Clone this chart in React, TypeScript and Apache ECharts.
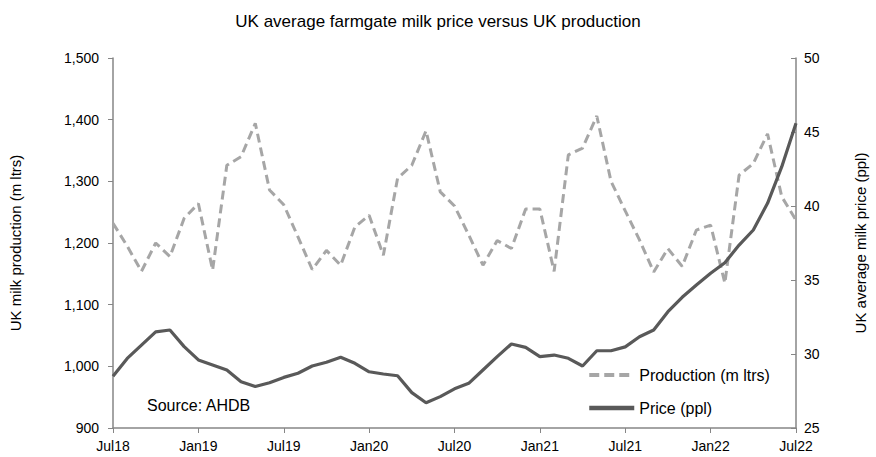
import React, { useEffect, useRef } from "react";
import * as echarts from "echarts";

const months = [
  "Jul18","Aug18","Sep18","Oct18","Nov18","Dec18","Jan19","Feb19","Mar19","Apr19","May19","Jun19",
  "Jul19","Aug19","Sep19","Oct19","Nov19","Dec19","Jan20","Feb20","Mar20","Apr20","May20","Jun20",
  "Jul20","Aug20","Sep20","Oct20","Nov20","Dec20","Jan21","Feb21","Mar21","Apr21","May21","Jun21",
  "Jul21","Aug21","Sep21","Oct21","Nov21","Dec21","Jan22","Feb22","Mar22","Apr22","May22","Jun22",
  "Jul22",
];

const production = [
  1232, 1195, 1154, 1200, 1178, 1240, 1264, 1156, 1326, 1340, 1394, 1286,
  1262, 1210, 1157, 1188, 1164, 1226, 1245, 1180, 1305, 1326, 1382, 1283,
  1260, 1213, 1164, 1204, 1191, 1255, 1255, 1154, 1343, 1354, 1406, 1300,
  1252, 1205, 1153, 1191, 1162, 1221, 1229, 1135, 1310, 1329, 1377, 1275,
  1237,
];

const price = [
  28.5, 29.7, 30.6, 31.5, 31.62, 30.5, 29.6, 29.26, 28.92, 28.13, 27.8, 28.06,
  28.42, 28.7, 29.19, 29.44, 29.78, 29.37, 28.8, 28.65, 28.53, 27.39, 26.71, 27.12,
  27.65, 28.02, 28.92, 29.82, 30.68, 30.45, 29.82, 29.93, 29.71, 29.19, 30.22, 30.22,
  30.48, 31.17, 31.62, 32.86, 33.83, 34.66, 35.45, 36.17, 37.36, 38.38, 40.18, 42.66,
  45.59,
];

const FONT = "'Liberation Sans', Arial, sans-serif";

export default function App() {
  const ref = useRef<HTMLDivElement>(null);
  useEffect(() => {
    if (!ref.current) return;
    const chart = echarts.init(ref.current, null, { renderer: "svg" });
    const axisColor = "#868686";
    chart.setOption({
      animation: false,
      backgroundColor: "#ffffff",
      textStyle: { fontFamily: FONT, color: "#000" },
      title: {
        text: "UK average farmgate milk price versus UK production",
        left: 433,
        textAlign: "center",
        top: 8,
        textStyle: { fontFamily: FONT, fontSize: 17, fontWeight: "normal", color: "#000" },
      },
      grid: { left: 112, right: 79, top: 58, bottom: 29, containLabel: false },
      legend: {
        orient: "vertical",
        left: 587,
        top: 367,
        padding: 0,
        itemWidth: 45,
        itemHeight: 14,
        itemGap: 17,
        itemStyle: { opacity: 0 },
        textStyle: { fontFamily: FONT, fontSize: 16, color: "#000" },
        data: [
          { name: "Production (m ltrs)", lineStyle: { width: 4, type: [10, 5], color: "#a6a6a6" } },
          { name: "Price (ppl)", lineStyle: { width: 4.5, color: "#595959" } },
        ],
      },
      xAxis: {
        type: "category",
        data: months,
        boundaryGap: false,
        axisLine: { lineStyle: { color: axisColor, width: 1.5 } },
        axisTick: { interval: 5, length: 5, lineStyle: { color: axisColor } },
        axisLabel: { interval: 5, fontFamily: FONT, fontSize: 14, color: "#000", margin: 11 },
        splitLine: { show: false },
      },
      yAxis: [
        {
          type: "value",
          min: 900,
          max: 1500,
          interval: 100,
          name: "UK milk production (m ltrs)",
          nameLocation: "middle",
          nameGap: 90,
          nameTextStyle: { fontFamily: FONT, fontSize: 15, fontWeight: "normal", color: "#000" },
          axisLine: { show: true, lineStyle: { color: axisColor, width: 1.5 } },
          axisTick: { show: true, length: 5, lineStyle: { color: axisColor } },
          axisLabel: {
            fontFamily: FONT,
            fontSize: 14,
            color: "#000",
            margin: 14,
            formatter: (v: number) => v.toLocaleString("en-US"),
          },
          splitLine: { show: false },
        },
        {
          type: "value",
          min: 25,
          max: 50,
          interval: 5,
          position: "right",
          name: "UK average milk price (ppl)",
          nameLocation: "middle",
          nameGap: 57,
          nameRotate: 90,
          nameTextStyle: { fontFamily: FONT, fontSize: 15, fontWeight: "normal", color: "#000" },
          axisLine: { show: true, lineStyle: { color: axisColor, width: 1.5 } },
          axisTick: { show: true, inside: true, length: 5, lineStyle: { color: axisColor } },
          axisLabel: { fontFamily: FONT, fontSize: 14, color: "#000", margin: 8 },
          splitLine: { show: false },
        },
      ],
      graphic: [
        {
          type: "text",
          left: 147,
          top: 397,
          style: { text: "Source: AHDB", fontFamily: FONT, fontSize: 16, fill: "#000" },
        },
      ],
      series: [
        {
          name: "Production (m ltrs)",
          type: "line",
          yAxisIndex: 0,
          data: production,
          symbol: "none",
          lineStyle: { color: "#a6a6a6", width: 3, type: [9, 5] },
          itemStyle: { color: "#a6a6a6" },
          z: 2,
        },
        {
          name: "Price (ppl)",
          type: "line",
          yAxisIndex: 1,
          data: price,
          symbol: "none",
          lineStyle: { color: "#595959", width: 3.2 },
          itemStyle: { color: "#595959" },
          z: 3,
        },
      ],
    });
    return () => chart.dispose();
  }, []);
  return <div ref={ref} style={{ width: 876, height: 457, position: "absolute", left: 0, top: 0 }} />;
}
